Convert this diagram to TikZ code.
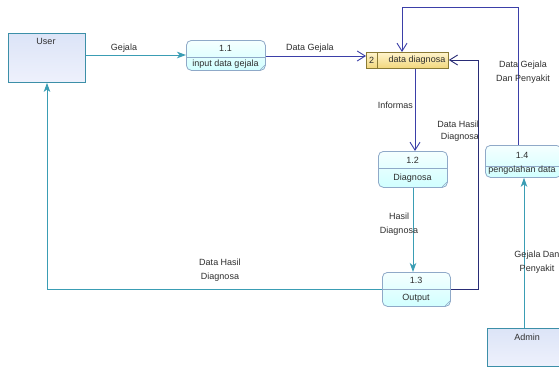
\documentclass[tikz,border=0pt]{standalone}
\usepackage{fontspec}
\setmainfont{Liberation Sans}
\usetikzlibrary{arrows.meta}
\definecolor{txt}{HTML}{2E2E2E}
\definecolor{teal}{HTML}{3A9DB4}
\definecolor{navy}{HTML}{3B3FA8}
\definecolor{procline}{HTML}{8FA9C8}
\definecolor{extline}{HTML}{3C8FA8}
\definecolor{storeline}{HTML}{8A7A35}
\definecolor{storetop}{HTML}{FFF4CC}
\definecolor{storebot}{HTML}{F2D77C}
\definecolor{exttop}{HTML}{DCE4F7}
\definecolor{extbot}{HTML}{EEF1FC}
\tikzset{
  lbl/.style={font=\fontsize{9}{10.5}\selectfont, text=txt, inner sep=0pt, align=center},
  extbox/.style={draw=extline, line width=0.9pt, top color=exttop, bottom color=extbot,
                 inner sep=0pt, anchor=north west},
  procbox/.style={draw=procline, line width=0.8pt, rounded corners=5pt,
                  top color=cyan!4!white, bottom color=cyan!18!white, inner sep=0pt, anchor=north west},
  storebox/.style={draw=storeline, line width=0.8pt, top color=storetop, bottom color=storebot,
                   inner sep=0pt, anchor=north west},
  userflow/.style={draw=teal, line width=0.9pt, -{Stealth[length=9pt,width=6.5pt,inset=2.5pt]}},
  storeflow/.style={draw=navy, line width=0.9pt, -{Straight Barb[length=8pt,width=10pt,line width=0.9pt]}},
}
\begin{document}
\begin{tikzpicture}[x=1pt,y=-1pt]
\useasboundingbox (0,0) rectangle (559,367);
\fill[white] (0,0) rectangle (559,367);

% external entities
\node[extbox, minimum width=77pt, minimum height=49pt] (user) at (8,33) {};
\node[lbl] at (46,41) {User};
\node[extbox, minimum width=76pt, minimum height=38pt] (admin) at (487,328) {};
\node[lbl] at (527,337) {Admin};

% processes: box, divider, number and name
\node[procbox, minimum width=79pt, minimum height=30pt] (p11) at (186,40) {};
\draw[procline, line width=0.7pt] (186,57) -- (265,57);
\draw[procline, line width=0.5pt] (260,70) -- (265,65);
\node[lbl] at (225.5,48) {1.1};
\node[lbl] at (225.5,64) {input data gejala};

\node[procbox, minimum width=69pt, minimum height=36pt] (p12) at (378,151) {};
\draw[procline, line width=0.7pt] (378,168) -- (447,168);
\draw[procline, line width=0.5pt] (442,187) -- (447,182);
\node[lbl] at (412.5,160) {1.2};
\node[lbl] at (412.5,178) {Diagnosa};

\node[procbox, minimum width=68pt, minimum height=34pt] (p13) at (382,272) {};
\draw[procline, line width=0.7pt] (382,289) -- (450,289);
\draw[procline, line width=0.5pt] (445,306) -- (450,301);
\node[lbl] at (416,280) {1.3};
\node[lbl] at (416,298) {Output};

\node[procbox, minimum width=76pt, minimum height=32pt] (p14) at (485,145) {};
\draw[procline, line width=0.7pt] (485,166) -- (561,166);
\node[lbl] at (522,155) {1.4};
\node[lbl] at (522,170) {pengolahan data};

% data store
\node[storebox, minimum width=82pt, minimum height=16pt] (store) at (366,52) {};
\draw[storeline, line width=0.8pt] (377,52) -- (377,68);
\node[lbl] at (371.5,60) {2};
\node[lbl] at (417,60) {data diagnosa};

% flows
\coordinate (gA) at (user.east |- 0,55);
\draw[userflow] (gA) -- (gA -| p11.west);
\node[lbl] at (124,48) {Gejala};

\coordinate (dgA) at (p11.east |- 0,56);
\draw[storeflow] (dgA) -- (dgA -| store.west);
\node[lbl] at (310,48) {Data Gejala};

\draw[storeflow] (p14.north -| 518,0) |- (402,7) -- (store.north -| 402,0);
\node[lbl] at (523,72) {Data Gejala\\[3pt]Dan Penyakit};

\draw[storeflow] (store.south -| 415,0) -- (p12.north -| 415,0);
\node[lbl, anchor=east] at (413,105) {Informas};

\draw[userflow] (p12.south -| 413,0) -- (p13.north -| 413,0);
\node[lbl] at (399,224) {Hasil\\[3pt]Diagnosa};

\coordinate (oA) at (p13.east |- 0,289);
\draw[draw=navy!70!black, line width=0.9pt, -{Straight Barb[length=8pt,width=10pt,line width=0.9pt]}]
  (oA) -| (478,60) -- (store.east |- 0,60);
\node[lbl, anchor=east] at (479,124) {Data Hasil};
\node[lbl, anchor=east] at (479,137) {Diagnosa};

\draw[userflow] (admin.north -| 524,0) -- (p14.south -| 524,0);
\node[lbl] at (537,262) {Gejala Dan\\[3pt]Penyakit};

\coordinate (hA) at (p13.west |- 0,289);
\draw[userflow] (hA) -| (user.south -| 47,0);
\node[lbl] at (220,270) {Data Hasil\\[3pt]Diagnosa};
\end{tikzpicture}
\end{document}
